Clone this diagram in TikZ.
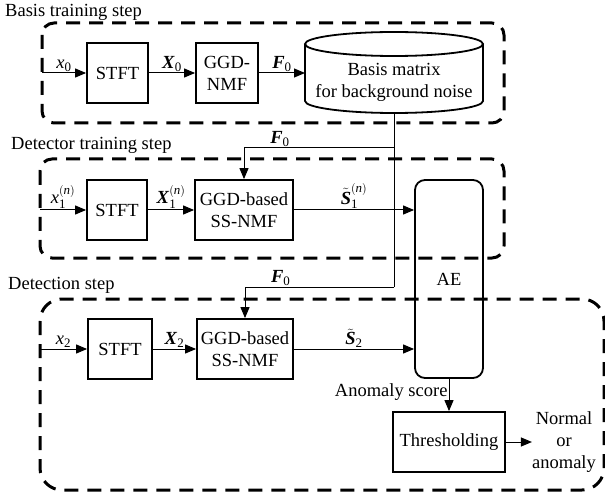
\documentclass[tikz,border=0pt]{standalone}
\usepackage{amsmath}
\usepackage{fontspec}
\setmainfont{Liberation Serif}
\usetikzlibrary{arrows.meta}

\newcommand{\bvec}[1]{\textbf{\textit{#1}}}

\begin{document}
\begin{tikzpicture}[x=1pt,y=-1pt,
		font=\fontsize{18.5}{22}\selectfont,
		block/.style={draw,line width=1.8pt,align=center,inner sep=2pt,minimum height=60pt},
		frame/.style={line width=3pt,dash pattern=on 14pt off 9pt,rounded corners=12pt},
		line/.style={line width=1pt},
		arr/.style={line width=1pt,-{Triangle[length=11pt,width=9pt]}},
		steplabel/.style={anchor=west,inner sep=0pt}]
			\useasboundingbox (0,0) rectangle (605,497);
			
			% Basis training step
			\node[steplabel] (lbasis) at (5,12) {Basis training step};
			\draw[frame] (42,23) rectangle (504,123);
			\coordinate (in0) at (42,73);
			\node[block,minimum width=61pt] (stft0) at (117.5,73) {STFT};
			\node[block,minimum width=62pt] (nmf0) at (227,73) {GGD-\\NMF};
			
			% Basis matrix (cylinder)
			\draw[line width=1.8pt] (394,44) ellipse [x radius=89pt, y radius=12pt];
			\draw[line width=1.8pt] (305,44) -- (305,101) arc [start angle=180, end angle=360, x radius=89pt, y radius=12pt] -- (483,44);
			\node[align=center,inner sep=0pt] (basis) at (394,82) {Basis matrix\\for background noise};
			\coordinate (cylw) at (305,73);
			\coordinate (cyls) at (394,113);
			
			\draw[arr] (in0) -- node[above,inner sep=1pt]{$\textit{x}_{\text{0}}$} (stft0);
			\draw[arr] (stft0) -- node[above,inner sep=1pt]{$\bvec{X}_{\text{0}}$} (nmf0);
			\draw[arr] (nmf0) -- node[above,inner sep=1pt]{$\bvec{F}_{\text{0}}$} (cylw);
			
			% Detector training step
			\node[steplabel] (ldet) at (11,145) {Detector training step};
			\draw[frame] (40,159) rectangle (504,258);
			\coordinate (in1) at (40,210);
			\node[block,minimum width=60pt] (stft1) at (117,210) {STFT};
			\node[block,minimum width=98pt] (ss1) at (244,210) {GGD-based\\SS-NMF};
			
			% AE
			\node[block,rounded corners=10pt,minimum width=68pt,minimum height=198pt] (ae) at (449,279) {AE};
			
			\draw[arr] (in1) -- node[above,inner sep=1pt]{$\textit{x}_{\text{1}}^{(\textit{n})}$} (stft1);
			\draw[arr] (stft1) -- node[above,inner sep=1pt]{$\bvec{X}_{\text{1}}^{(\textit{n})}$} (ss1);
			\draw[arr] (ss1) -- node[above,inner sep=1pt]{$\tilde{\bvec{S}}_{\text{1}}^{(\textit{n})}$} (ae.west |- ss1.east);
			
			% Detection step
			\node[steplabel] (ldetn) at (8,285) {Detection step};
			\draw[frame,rounded corners=22pt] (40,299) rectangle (604,490);
			\coordinate (in2) at (40,349);
			\node[block,minimum width=64pt] (stft2) at (120,349) {STFT};
			\node[block,minimum width=96pt] (ss2) at (245,349) {GGD-based\\SS-NMF};
			\node[block,minimum width=112pt] (thr) at (449,442) {Thresholding};
			\node[align=center,inner sep=0pt] (out) at (564,442) {Normal\\or\\anomaly};
			
			\draw[arr] (in2) -- node[above,inner sep=1pt]{$\textit{x}_{\text{2}}$} (stft2);
			\draw[arr] (stft2) -- node[above,inner sep=1pt]{$\bvec{X}_{\text{2}}$} (ss2);
			\draw[arr] (ss2) -- node[above,inner sep=1pt]{$\tilde{\bvec{S}}_{\text{2}}$} (ae.west |- ss2.east);
			\draw[arr] (ae.south -| thr.north) -- node[left,pos=0.4,inner sep=1pt]{Anomaly score} (thr.north);
			\draw[arr] (thr) -- (out);
			
			% F0 feeds
			\coordinate (tap1) at (394,148);
			\coordinate (tap2) at (394,287);
			\draw[line] (cyls) -- (tap2);
			\draw[arr] (tap1) -| node[above,pos=0.38,inner sep=1pt]{$\bvec{F}_{\text{0}}$} (ss1.north);
			\draw[arr] (tap2) -| node[above,pos=0.38,inner sep=1pt]{$\bvec{F}_{\text{0}}$} (ss2.north);
			
\end{tikzpicture}
\end{document}
